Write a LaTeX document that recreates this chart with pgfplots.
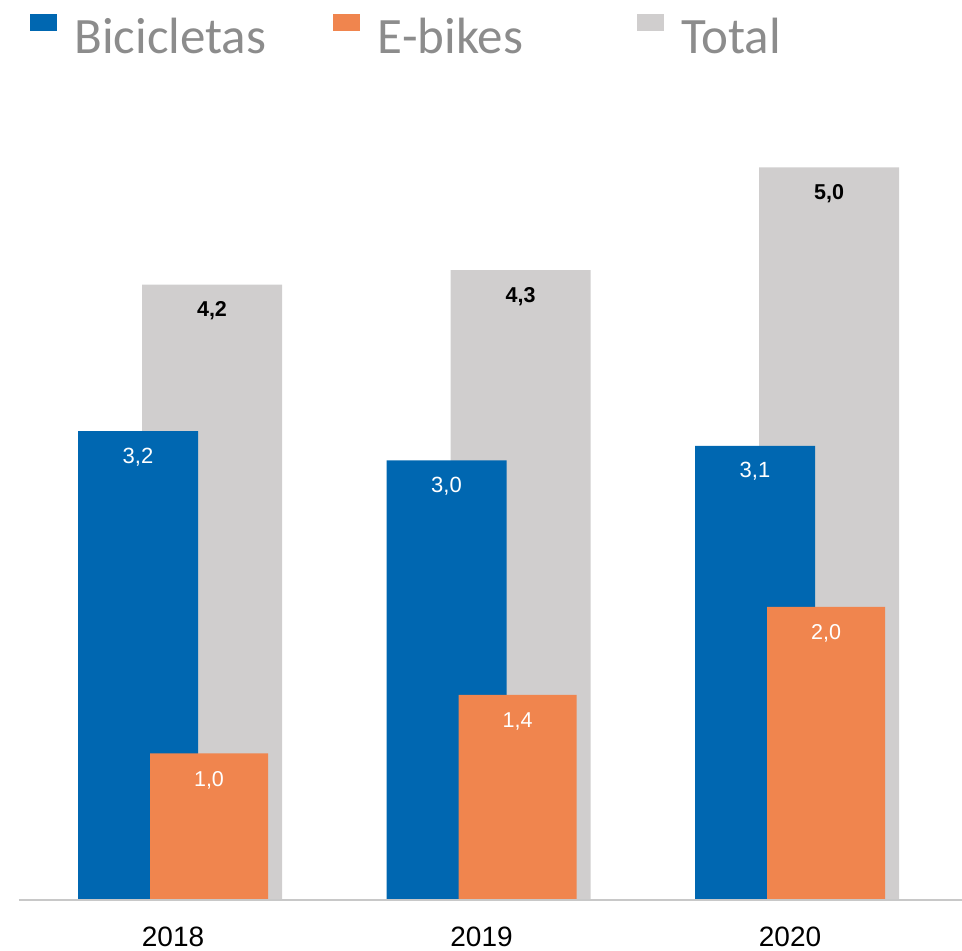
\documentclass[border=0pt]{standalone}
\usepackage{pgfplots}
\pgfplotsset{compat=1.18}
\usepackage{fontspec}
\setmainfont{Liberation Sans}
\newfontfamily\legendfont{Carlito}
\definecolor{blueC}{RGB}{0,103,177}
\definecolor{orangeC}{RGB}{240,133,78}
\definecolor{grayC}{RGB}{208,206,206}
\definecolor{axisC}{RGB}{200,200,200}
\definecolor{legtext}{RGB}{140,140,140}
\begin{document}
\begin{tikzpicture}
\begin{axis}[
  at={(0bp,51bp)}, anchor=south west,
  scale only axis, width=962bp, height=900bp,
  xmin=-0.5608, xmax=2.5575, ymin=0, ymax=6.1433,
  clip=false,
  axis line style={draw=none}, tick style={draw=none},
  ytick=\empty,
  xtick={0,1,2}, xticklabels={2018,2019,2020},
  xticklabel style={anchor=base, yshift=-46bp, font=\fontsize{28bp}{34bp}\selectfont, text=black},
  /pgf/number format/fixed, /pgf/number format/fixed zerofill,
  /pgf/number format/precision=1, /pgf/number format/use comma,
  /pgf/number format/assume math mode=true,
  legend columns=3,
  legend style={at={(0.03119,0.98444)}, anchor=north west, draw=none, fill=none,
    inner sep=0pt, outer sep=0pt, column sep=0pt, row sep=0pt,
    nodes={inner sep=0pt, text width=259bp, align=left, text=legtext,
      font=\legendfont\fontsize{51bp}{60bp}\selectfont}},
]
\addplot[ybar, bar width=140bp, bar shift=39bp, fill=grayC, draw=none, forget plot,
  nodes near coords, nodes near coords style={anchor=base, yshift=-32bp, xshift=39bp, text=black,
  font=\bfseries\fontsize{21.5bp}{25bp}\selectfont}]
  table[x=x, y=y] {
x y
0 4.2
1 4.3
2 5.0
};
\addplot[ybar, bar width=120bp, bar shift=-35bp, fill=blueC, draw=none, forget plot,
  nodes near coords, nodes near coords style={anchor=base, yshift=-32bp, xshift=-35bp, text=white,
  font=\fontsize{22bp}{26bp}\selectfont}]
  table[x=x, y=y] {
x y
0 3.2
1 3.0
2 3.1
};
\addplot[ybar, bar width=118bp, bar shift=36bp, fill=orangeC, draw=none, forget plot,
  nodes near coords, nodes near coords style={anchor=base, yshift=-33bp, xshift=36bp, text=white,
  font=\fontsize{21.5bp}{25bp}\selectfont}]
  table[x=x, y=y] {
x y
0 1.0
1 1.4
2 2.0
};
\draw[axisC, line width=1.5bp] (axis cs:-0.5,0) -- (axis cs:2.5575,0);
\addlegendimage{legend image code/.code={\fill[blueC] (0bp,6bp) rectangle (26bp,22bp); \path (44bp,0bp);}}
\addlegendentry{Bicicletas}
\addlegendimage{legend image code/.code={\fill[orangeC] (0bp,6bp) rectangle (26bp,22bp); \path (44bp,0bp);}}
\addlegendentry{E-bikes}
\addlegendimage{legend image code/.code={\fill[grayC] (0bp,6bp) rectangle (26bp,22bp); \path (44bp,0bp);}}
\addlegendentry{Total}
\end{axis}
\pgfresetboundingbox
\path (0,0) rectangle (962bp,951bp);
\end{tikzpicture}
\end{document}
